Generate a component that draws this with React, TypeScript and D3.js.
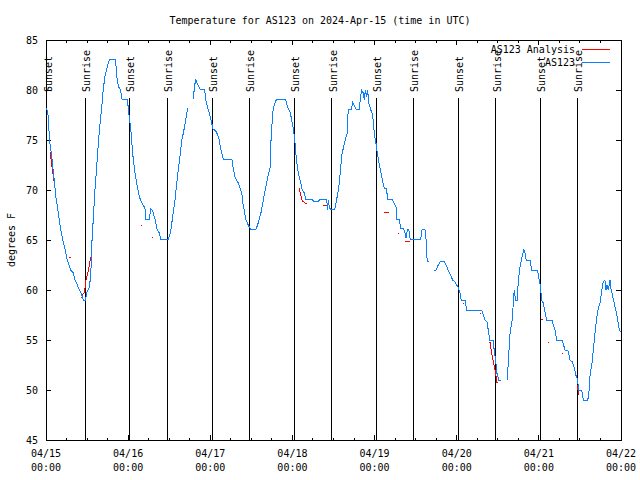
import React from "react";
import * as d3 from "d3";

const titleText = "Temperature for AS123 on 2024-Apr-15 (time in UTC)";
const yAxisLabel = "degrees F";
const dayLabels = ["04/15", "04/16", "04/17", "04/18", "04/19", "04/20", "04/21", "04/22"];
const timeLabel = "00:00";
const yTickValues = [45, 50, 55, 60, 65, 70, 75, 80, 85];
const seriesNames = ["AS123 Analysis", "AS123"];

// hours after 2024-04-15 00:00 UTC
const sunsetHours = [0.2, 24.3, 48.6, 72.55, 96.5, 120.45, 144.4];
const sunriseHours = [11.5, 35.45, 59.4, 83.45, 107.3, 131.4, 155.15];

// observed (null = gap)
const obsHours: (number | null)[] = [
  0.2, 0.7, 1.0, 1.7, 2.3, 2.9, 3.6, 4.3, 4.9, 5.6, 6.2, 7.2, 8.0, 8.5, 9.4, 10.1, 10.7, 10.9, 11.5, 11.9,
  12.7, 13.1, 13.4, 13.8, 14.3, 14.8, 15.3, 15.8, 16.3, 16.7, 17.2, 17.7, 18.2, 18.7, 20.3, 20.7, 21.2, 21.8,
  22.2, 23.8, 24.3, 24.8, 25.3, 26.0, 26.7, 27.3, 28.0, 28.9, 29.2, 30.2, 30.6, 31.2, 31.9, 32.5, 33.1, 33.5,
  35.7, 36.4, 37.0, 37.7, 38.2, 39.0, 39.7, 40.3, 40.8, 41.1, 41.4, null,
  43.0, 43.3, 43.7, 44.1, 44.5, 45.0, 46.3, 46.7, 47.3, 47.6, 48.0, 48.4, 48.8, 49.6, 50.2, 50.6, 51.1, 51.8,
  54.3, 54.7, 55.2, 55.7, 56.2, 56.7, 57.2, 57.5, 57.9, 58.4, 59.1, 59.7, 61.4, 62.0, 62.8, 63.5, 64.2, 64.8,
  65.5, 65.7, 66.1, 66.4, 66.9, 67.4, 70.0, 70.6, 71.3, 71.8, 72.3, 72.6, 73.0, 73.3, 73.7, 74.2, 74.9, 75.5,
  75.9, 77.6, 78.1, 79.6, 80.1, 82.0, 82.3, 82.5, 82.8, 83.5, 84.2, 84.4, 84.9, 85.4, 85.7, 86.1, 86.5, 86.9,
  87.4, 88.0, 88.3, 89.3, 89.6, 90.6, 91.5, 92.2, 92.7, 93.0, 93.3, 93.7, 94.0, 94.3, 94.9, 95.2, 95.6, 95.9,
  96.4, 96.8, 97.3, 97.8, 98.3, 98.8, 99.5, 99.8, 101.0, 101.7, 102.3, 102.5, 103.2, 103.6, 104.4, 104.9,
  105.2, 105.6, 106.0, 106.4, 109.5, 109.9, 110.7, 111.0, 111.2, 111.4, 112.0, null,
  113.4, 114.0, 114.6, 115.3, 116.3, 116.9, 117.5, 118.2, 118.8, 119.5, 120.0, 120.5, 121.0, 121.3, 122.4,
  122.9, 127.3, 127.8, 128.3, 128.9, 129.2, 129.7, 130.7, 131.0, 131.4, 131.7, 132.0, 132.2, 132.9, null,
  134.8, 135.1, 135.6, 136.1, 136.4, 136.8, 137.2, 137.7, 138.0, 138.5, 139.0, 139.6, 140.0, 140.3, 141.4,
  141.9, 143.6, 144.0, 144.5, 144.8, 145.3, 145.8, 146.3, 147.8, 148.2, 148.7, 149.2, 150.7, 151.1, 151.6,
  152.6, 153.1, 153.8, 154.3, 154.8, 155.4, 155.5, 156.5, 157.0, 158.3, 158.7, 159.0, 159.4, 159.9, 160.4,
  160.9, 161.4, 161.9, 162.4, 162.8, 163.3, 163.6, 163.9, 164.3, 164.8, 165.1, 165.5, 166.0, 166.7, 167.2,
  167.5, 168.0,
];
const obsTemps: (number | null)[] = [
  78.2, 77.3, 75.0, 73.3, 71.3, 69.3, 67.7, 66, 65, 64, 63, 62, 61.7, 61, 60.3, 59.8, 59.3, 59, 59, 59.7,
  60.3, 61.7, 64.7, 67, 70, 72.3, 74.7, 76.7, 78.3, 80, 81.3, 82, 82.7, 83.1, 83.1, 81.3, 80.3, 80,
  79.1, 79, 77.3, 76, 73.7, 71.7, 70.3, 69.3, 68.7, 68.2, 67.1, 67.1, 68.1, 67.9, 67, 66, 65.7, 65.1,
  65.1, 65.8, 67.3, 69, 70.7, 73, 75, 76, 77, 77.6, 78.2, null,
  79.1, 80, 81.1, 80.7, 80.4, 80.1, 80.1, 79, 78.1, 77.8, 77.3, 76.7, 76.1, 75.9, 75.5, 75, 74, 73.1,
  73.1, 72.2, 71.3, 71, 70.7, 70.2, 69.7, 68.7, 68, 67, 66.5, 66.1, 66.1, 66.7, 67.7, 69, 70.3, 71.3,
  72.3, 74.7, 77, 78.2, 78.7, 79.1, 79.1, 78.3, 77.8, 77, 76, 75.3, 73.7, 72.7, 71.7, 71, 70, 69.7,
  69.1, 69.1, 68.9, 68.9, 69.1, 69.1, 68, 69, 68.2, 68, 68.1, 68.1, 69, 70, 70.7, 72.3, 73.7, 74.2,
  75, 75.7, 78, 78.1, 78.8, 78.1, 78.1, 80, 79.7, 79, 80, 79.3, 80, 78.7, 78, 77.8, 77, 75.7,
  74.7, 73.7, 72.7, 71.8, 71, 70.2, 70.1, 69.1, 69.1, 68.7, 68.3, 67.1, 67.1, 66.2, 66.2, 65.7,
  65.2, 66, 66.1, 65.1, 65.1, 66.1, 66.1, 65.3, 63.7, 62.9, 62.9, null,
  61.9, 62, 62.5, 62.9, 62.9, 62.5, 62, 61.5, 61, 60.8, 60.5, 60.2, 59.7, 59, 59,
  58, 58, 57.5, 57, 56.8, 56, 55, 55, 53.7, 53, 51.7, 51.5, 51, 51, null,
  51, 53, 55.8, 56.7, 58, 60, 59, 59, 61, 62.3, 63.2, 64, 63.7, 63, 63,
  62, 62, 61.2, 60.3, 59, 58.7, 57.8, 57, 57, 56.5, 56, 55, 55, 54.7, 54,
  53.9, 53, 52.8, 52.3, 51.5, 51, 50, 50, 49, 49, 50, 51.7, 52.3, 54, 55.7,
  57.2, 58.2, 58.7, 60, 60.8, 61, 60, 60.5, 60, 61, 60, 59.5, 58.7, 57.7, 56.7,
  56, 55.8,
];

// analysis (null = gap)
const anaHours: (number | null)[] = [
  1.2, 1.8, 2.3, 2.6, null, 6.8, 7.2, null, 10.1, null, 10.5, 11.2, 11.7, 12.4, 13.1, null,
  27.8, null, 31.1, null, 36.0, null, 73.9, 74.9, 76.2, null, 77.9, 79.1, null, 81.0, 82.3, null,
  98.8, 100.2, null, 102.9, null, 104.9, 106.4, null, 121.9, null, 126.8, null,
  129.7, 130.4, 131.2, 131.8, null, 144.6, 145.3, null, 146.8, null, 150.9, null, 155.2, 155.7,
];
const anaTemps: (number | null)[] = [
  73.8, 72.2, 71, 70.2, null, 63.3, 63.3, null, 59.3, null, 59.5, 59.7, 61, 62, 63.3, null,
  66.5, null, 65.3, null, 65.6, null, 70.2, 68.9, 68.6, null, 68.9, 68.9, null, 68.5, 68.5, null,
  67.8, 67.8, null, 65.7, null, 64.9, 64.9, null, 58.7, null, 57.7, null,
  54.8, 53.3, 52, 50.7, null, 57.1, 57.1, null, 54.8, null, 53.7, null, 50.5, 49.5,
];

const FONT = "'DejaVu Sans Mono', 'Liberation Mono', monospace";
const BLUE = "#0a80ff";
const RED = "#ff0000";

type P = [number, number] | null;

function toPoints(hs: (number | null)[], ts: (number | null)[]): P[] {
  return hs.map((h, i) => (h === null || ts[i] === null ? null : [h, ts[i] as number]));
}

function segments(pts: P[]): [number, number][][] {
  const out: [number, number][][] = [];
  let cur: [number, number][] = [];
  pts.forEach((p) => {
    if (p === null) {
      if (cur.length) out.push(cur);
      cur = [];
    } else cur.push(p);
  });
  if (cur.length) out.push(cur);
  return out;
}

export default function App() {
  const W = 640;
  const H = 480;
  const L = 46, R = 621, T = 40, B = 440;
  const x = d3.scaleLinear().domain([0, 168]).range([L, R]);
  const y = d3.scaleLinear().domain([45, 85]).range([B, T]);
  const line = d3
    .line<[number, number]>()
    .x((d) => x(d[0]))
    .y((d) => y(d[1]));

  const obs = segments(toPoints(obsHours, obsTemps));
  const ana = segments(toPoints(anaHours, anaTemps));
  const majorX = d3.range(0, 169, 24);
  const minorX = d3.range(0, 169, 6).filter((h) => h % 24 !== 0);
  const fs = 10;

  const vlines = [
    ...sunsetHours.map((h) => ({ h, label: "Sunset" })),
    ...sunriseHours.map((h) => ({ h, label: "Sunrise" })),
  ];

  return (
    <svg
      width={W}
      height={H}
      style={{ position: "absolute", left: 0, top: 0, background: "#fff" }}
      fontFamily={FONT}
      fontSize={fs}
    >
      <rect x={0} y={0} width={W} height={H} fill="#fff" />
      <text x={320} y={20} textAnchor="middle" dominantBaseline="central" fill="#000">
        {titleText}
      </text>

      {/* sunrise / sunset markers */}
      {vlines.map((v, i) => (
        <g key={"v" + i}>
          <line x1={x(v.h)} x2={x(v.h)} y1={98} y2={B} stroke="#000" strokeWidth={1} shapeRendering="crispEdges" />
          <text
            transform={`translate(${x(v.h) + 1.5},${92}) rotate(-90)`}
            textAnchor="start"
            dominantBaseline="central"
            fill="#000"
          >
            {v.label}
          </text>
        </g>
      ))}

      {/* frame */}
      <rect x={L} y={T} width={R - L} height={B - T} fill="none" stroke="#000" strokeWidth={1} shapeRendering="crispEdges" />

      {/* y ticks */}
      {yTickValues.map((v) => (
        <g key={"y" + v}>
          <line x1={L} x2={L + 5} y1={y(v)} y2={y(v)} stroke="#000" shapeRendering="crispEdges" />
          <line x1={R} x2={R - 5} y1={y(v)} y2={y(v)} stroke="#000" shapeRendering="crispEdges" />
          <text x={38} y={y(v)} textAnchor="end" dominantBaseline="central" fill="#000">
            {v}
          </text>
        </g>
      ))}

      {/* x ticks */}
      {majorX.map((h, i) => (
        <g key={"x" + h}>
          <line x1={x(h)} x2={x(h)} y1={B} y2={B - 5} stroke="#000" shapeRendering="crispEdges" />
          <line x1={x(h)} x2={x(h)} y1={T} y2={T + 5} stroke="#000" shapeRendering="crispEdges" />
          <text x={x(h)} y={453} textAnchor="middle" dominantBaseline="central" fill="#000">
            {dayLabels[i]}
          </text>
          <text x={x(h)} y={467} textAnchor="middle" dominantBaseline="central" fill="#000">
            {timeLabel}
          </text>
        </g>
      ))}
      {minorX.map((h) => (
        <g key={"m" + h}>
          <line x1={x(h)} x2={x(h)} y1={B} y2={B - 2.5} stroke="#000" shapeRendering="crispEdges" />
          <line x1={x(h)} x2={x(h)} y1={T} y2={T + 2.5} stroke="#000" shapeRendering="crispEdges" />
        </g>
      ))}

      <text
        transform={`translate(11,240) rotate(-90)`}
        textAnchor="middle"
        dominantBaseline="central"
        fill="#000"
      >
        {yAxisLabel}
      </text>

      {/* analysis series */}
      {ana.map((s, i) =>
        s.length > 1 ? (
          <path key={"a" + i} d={line(s) || ""} fill="none" stroke={RED} strokeWidth={1} shapeRendering="crispEdges" />
        ) : (
          <rect key={"a" + i} x={Math.round(x(s[0][0]))} y={Math.round(y(s[0][1]))} width={1} height={1} fill={RED} />
        )
      )}
      {/* observed series */}
      {obs.map((s, i) => (
        <path key={"o" + i} d={line(s) || ""} fill="none" stroke={BLUE} strokeWidth={1} shapeRendering="crispEdges" />
      ))}

      {/* legend */}
      <text x={575} y={49} textAnchor="end" dominantBaseline="central" fill="#000">
        {seriesNames[0]}
      </text>
      <line x1={582} x2={610} y1={49} y2={49} stroke={RED} strokeWidth={1} shapeRendering="crispEdges" />
      <text x={575} y={62} textAnchor="end" dominantBaseline="central" fill="#000">
        {seriesNames[1]}
      </text>
      <line x1={582} x2={610} y1={62} y2={62} stroke={BLUE} strokeWidth={1} shapeRendering="crispEdges" />
    </svg>
  );
}
